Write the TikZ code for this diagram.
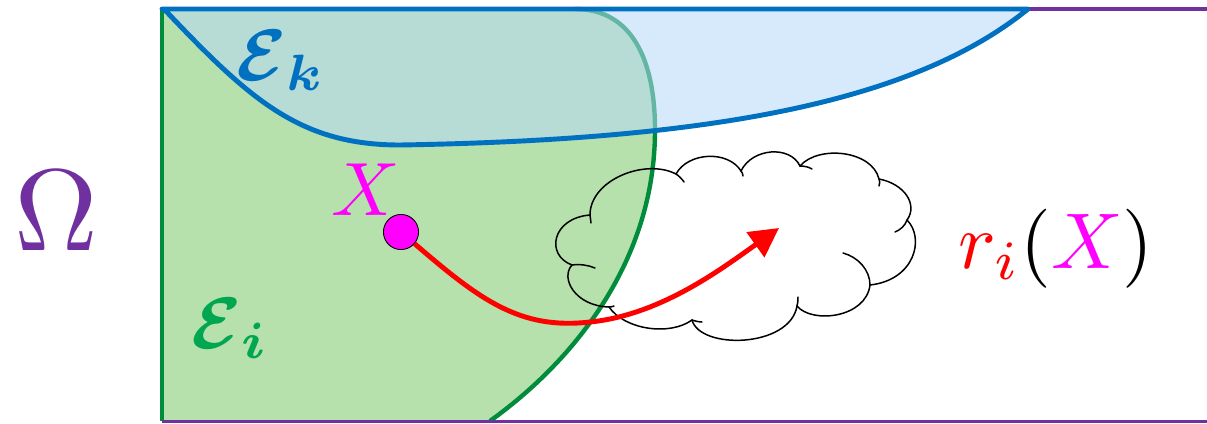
\documentclass[tikz,border=0pt]{standalone}
\usepackage{graphicx}
\usepackage{amsmath,bm}
\usetikzlibrary{arrows.meta}
\definecolor{omegapurple}{RGB}{112,48,160}
\definecolor{setblue}{RGB}{0,112,192}
\definecolor{setgreen}{RGB}{0,140,60}
\definecolor{labelgreen}{RGB}{0,166,80}
\definecolor{greenfill}{RGB}{182,224,172}
\definecolor{bluefill}{RGB}{182,217,248}
\definecolor{ptmagenta}{RGB}{255,0,255}
\tikzset{
  frameline/.style={draw=omegapurple, line width=2.2pt},
  greenline/.style={draw=setgreen, line width=2.5pt},
  blueset/.style={draw=setblue, line width=2.8pt, line join=round},
  mapping/.style={draw=red, line width=2.8pt, -{Triangle[length=16.5pt,width=17pt]}},
  pointdot/.style={circle, fill=ptmagenta, draw=black, line width=0.5pt, minimum size=20pt, inner sep=0pt},
  cloudline/.style={draw=black, line width=0.85pt, line cap=round},
  biglabel/.style={anchor=base, inner sep=0pt}
}
\begin{document}
\begin{tikzpicture}[x=0.02cm, y=-0.02cm]
\useasboundingbox (0,0) rectangle (1207,423);

% region E_i
\fill[greenfill] (162,421) -- (162,9) -- (575,9)
  .. controls (632,9) and (655,60) .. (655,130)
  .. controls (655,260) and (575,360) .. (490,421) -- cycle;
\draw[greenline] (575,9)
  .. controls (632,9) and (655,60) .. (655,130)
  .. controls (655,260) and (575,360) .. (490,421);
\draw[greenline] (162,421) -- (162,9);

% domain frame
\draw[frameline, line width=1.6pt] (162,421.5) -- (1207,421.5);
\draw[frameline] (1000,9) -- (1207,9);

% region E_k
\fill[bluefill, opacity=0.55] (164,9)
  .. controls (250,100) and (300,145) .. (400,145)
  .. controls (700,140) and (910,105) .. (1028,9) -- cycle;
\draw[blueset] (164,9)
  .. controls (250,100) and (300,145) .. (400,145)
  .. controls (700,140) and (910,105) .. (1028,9) -- (162,9) -- cycle;

% labels
\node[biglabel, text=omegapurple] (omega) at (56,250) {\scalebox{6.6}{$\Omega$}};
\node[biglabel, text=setblue] (ek) at (281,80) {\scalebox{4.15}{$\bm{\mathcal{E}}_{\bm{k}}$}};
\node[biglabel, text=labelgreen] (ei) at (230,348) {\scalebox{4.15}{$\bm{\mathcal{E}}_{\bm{i}}$}};

% cloud: outer puffs
\draw[cloudline] (590,215)
  .. controls (590,180) and (645,158) .. (676,174)
  .. controls (688,152) and (728,150) .. (741,171)
  .. controls (752,148) and (790,145) .. (800,166)
  .. controls (818,145) and (872,150) .. (879,179)
  .. controls (905,184) and (918,205) .. (907,220)
  .. controls (925,238) and (915,280) .. (870,285)
  .. controls (866,318) and (812,324) .. (797,306)
  .. controls (790,348) and (700,350) .. (692,320)
  .. controls (670,336) and (625,330) .. (609,307)
  .. controls (575,306) and (560,278) .. (572,265)
  .. controls (545,255) and (552,218) .. (590,215);
% cloud: inner puff ends
\draw[cloudline] (590,215) -- (591,223);
\draw[cloudline] (676,174) .. controls (679,176) and (682,179) .. (684,182);
\draw[cloudline] (741,171) .. controls (742,172) and (743,174) .. (743,176);
\draw[cloudline] (800,166) .. controls (804,166) and (809,167) .. (812,169);
\draw[cloudline] (879,179) .. controls (880,181) and (880,183) .. (879,186);
\draw[cloudline] (907,220) .. controls (905,226) and (900,230) .. (895,232);
\draw[cloudline] (870,285) .. controls (870,270) and (858,257) .. (843,253);
\draw[cloudline] (797,306) .. controls (798,302) and (798,300) .. (798,297);
\draw[cloudline] (692,320) .. controls (695,321) and (699,322) .. (702,322);
\draw[cloudline] (609,307) .. controls (610,307) and (612,307) .. (614,306);
\draw[cloudline] (572,265) .. controls (580,264) and (588,265) .. (595,268);

% the point X and its image
\node[biglabel, text=ptmagenta] (xl) at (366,215) {\scalebox{4.3}{$X$}};
\node[pointdot] (x) at (401,232) {};
\coordinate (tip) at (779,228);
\draw[mapping] (x) .. controls (480,300) and (520,330) .. (590,322)
  .. controls (660,315) and (720,270) .. (tip);
\node[biglabel] (rx) at (1056,268)
  {\scalebox{4.5}{$\textcolor{red}{r_i}\mathbf{(}\textcolor{ptmagenta}{X}\mathbf{)}$}};
\end{tikzpicture}
\end{document}
